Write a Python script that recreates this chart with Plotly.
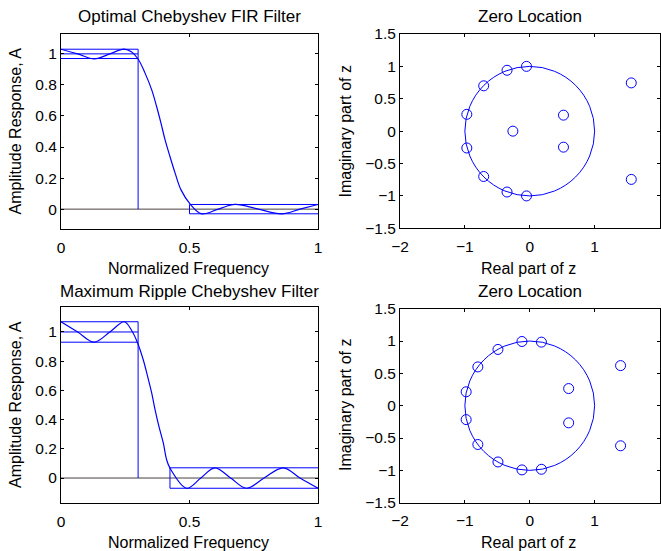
import plotly.graph_objects as go

# ---------------- data ----------------
# Optimal Chebyshev FIR filter amplitude response
freq1 = [0.0, 0.065, 0.13, 0.19, 0.245, 0.275, 0.3, 0.327, 0.353, 0.372, 0.389,
         0.405, 0.424, 0.444, 0.467, 0.502, 0.547, 0.612, 0.677, 0.768, 0.859, 0.93, 1.0]
amp1 = [1.03, 1.0, 0.968, 1.0, 1.03, 1.012, 0.967, 0.876, 0.768, 0.661, 0.554,
        0.446, 0.339, 0.232, 0.124, 0.034, -0.03, 0.0, 0.03, 0.0, -0.03, 0.0, 0.03]
fp1, fs1, dp1, ds1 = 0.3, 0.5, 0.03, 0.03

# Maximum ripple Chebyshev filter amplitude response
freq2 = [0.0, 0.065, 0.129, 0.19, 0.246, 0.275, 0.298, 0.32, 0.337, 0.353, 0.366,
         0.381, 0.398, 0.411, 0.424, 0.489, 0.544, 0.599, 0.66, 0.722, 0.79, 0.865, 0.93, 1.0]
amp2 = [1.07, 1.0, 0.93, 1.0, 1.07, 1.01, 0.925, 0.81, 0.696, 0.582, 0.468,
        0.353, 0.24, 0.125, 0.068, -0.07, 0.0, 0.07, 0.0, -0.07, 0.0, 0.07, 0.0, -0.07]
fp2, fs2, dp2, ds2 = 0.3, 0.424, 0.07, 0.07

# Zeros (real, imag)
zr1 = [-0.05, -0.05, -0.35, -0.35, -0.71, -0.71, -0.97, -0.97, -0.26, 0.52, 0.52, 1.565, 1.565]
zi1 = [1.0, -1.0, 0.94, -0.94, 0.70, -0.70, 0.26, -0.26, 0.0, 0.247, -0.247, 0.745, -0.745]

zr2 = [-0.12, -0.12, 0.18, 0.18, -0.49, -0.49, -0.80, -0.80, -0.98, -0.98, 0.60, 0.60, 1.40, 1.40]
zi2 = [0.993, -0.993, 0.983, -0.983, 0.87, -0.87, 0.60, -0.60, 0.215, -0.215, 0.265, -0.265, 0.62, -0.62]

amp_ticks = [0, 0.2, 0.4, 0.6, 0.8, 1]
amp_ticktext = ["0", "0.2", "0.4", "0.6", "0.8", "1"]
freq_ticks = [0, 0.5, 1]
freq_ticktext = ["0", "0.5", "1"]
re_ticks = [-2, -1, 0, 1, 2]
re_ticktext = ["\u22122", "\u22121", "0", "1", "2"]
im_ticks = [-1.5, -1, -0.5, 0, 0.5, 1, 1.5]
im_ticktext = ["\u22121.5", "\u22121", "\u22120.5", "0", "0.5", "1", "1.5"]

# ---------------- layout helpers ----------------
W, H = 661, 551
FONT = "Liberation Sans, Arial, Helvetica, sans-serif"
FS_TICK = 15.5
FS_LABEL = 16
FS_TITLE = 17
BLUE = "#0000ff"


def px(x):
    return x / W


def py(y):
    return 1 - y / H


fig = go.Figure()


def filter_traces(xa, ya, freq, amp, fp, fs, dp, ds):
    line = dict(color=BLUE, width=1)
    # zero line
    fig.add_trace(go.Scatter(x=[0, 1], y=[0, 0], mode="lines", xaxis=xa, yaxis=ya,
                             line=dict(color="#4a4040", width=1), hoverinfo="skip"))
    # passband box
    fig.add_trace(go.Scatter(x=[0, fp, fp], y=[1 + dp, 1 + dp, 0], mode="lines",
                             xaxis=xa, yaxis=ya, line=line))
    fig.add_trace(go.Scatter(x=[0, fp], y=[1, 1], mode="lines", xaxis=xa, yaxis=ya, line=line))
    fig.add_trace(go.Scatter(x=[0, fp], y=[1 - dp, 1 - dp], mode="lines", xaxis=xa, yaxis=ya, line=line))
    # stopband box
    fig.add_trace(go.Scatter(x=[1, fs, fs, 1], y=[ds, ds, -ds, -ds], mode="lines",
                             xaxis=xa, yaxis=ya, line=line))
    # response
    fig.add_trace(go.Scatter(x=freq, y=amp, mode="lines", xaxis=xa, yaxis=ya,
                             line=dict(color=BLUE, width=1.2, shape="spline", smoothing=1)))


def zero_traces(xa, ya, zr, zi):
    fig.add_trace(go.Scatter(x=zr, y=zi, mode="markers", xaxis=xa, yaxis=ya,
                             marker=dict(symbol="circle-open", size=10,
                                         color=BLUE, line=dict(color=BLUE, width=1))))


filter_traces("x", "y", freq1, amp1, fp1, fs1, dp1, ds1)
zero_traces("x2", "y2", zr1, zi1)
filter_traces("x3", "y3", freq2, amp2, fp2, fs2, dp2, ds2)
zero_traces("x4", "y4", zr2, zi2)

axis_common = dict(showline=True, linecolor="black", linewidth=1, mirror="ticks",
                   ticks="inside", ticklen=3, tickcolor="black", showgrid=False,
                   zeroline=False, automargin=False,
                   tickfont=dict(family=FONT, size=FS_TICK, color="black"),
                   fixedrange=True)
xax = dict(axis_common, ticklabelstandoff=4)
yax = dict(axis_common)

L0, L1 = px(61), px(318)
R0, R1 = px(400), px(659.5)

fig.update_layout(
    width=W, height=H, margin=dict(l=0, r=0, t=0, b=0, autoexpand=False),
    paper_bgcolor="white", plot_bgcolor="white", showlegend=False,
    font=dict(family=FONT, size=FS_TICK, color="black"),
    xaxis=dict(domain=[L0, L1], range=[0, 1], tickvals=freq_ticks, ticktext=freq_ticktext,
               anchor="y", **xax),
    yaxis=dict(domain=[py(229), py(34)], range=[-0.128, 1.128], tickvals=amp_ticks,
               ticktext=amp_ticktext, anchor="x", **yax),
    xaxis2=dict(domain=[R0, R1], range=[-2, 2], tickvals=re_ticks, ticktext=re_ticktext,
                anchor="y2", **xax),
    yaxis2=dict(domain=[py(228.3), py(34)], range=[-1.5, 1.5], tickvals=im_ticks,
                ticktext=im_ticktext, anchor="x2", **yax),
    xaxis3=dict(domain=[L0, L1], range=[0, 1], tickvals=freq_ticks, ticktext=freq_ticktext,
                anchor="y3", **xax),
    yaxis3=dict(domain=[py(503.3), py(306.7)], range=[-0.173, 1.173], tickvals=amp_ticks,
                ticktext=amp_ticktext, anchor="x3", **yax),
    xaxis4=dict(domain=[R0, R1], range=[-2, 2], tickvals=re_ticks, ticktext=re_ticktext,
                anchor="y4", **xax),
    yaxis4=dict(domain=[py(502.7), py(308.7)], range=[-1.5, 1.5], tickvals=im_ticks,
                ticktext=im_ticktext, anchor="x4", **yax),
)

# unit circles
for xr, yr in (("x2", "y2"), ("x4", "y4")):
    fig.add_shape(type="circle", xref=xr, yref=yr, x0=-1, y0=-1, x1=1, y1=1,
                  line=dict(color=BLUE, width=1), layer="below")

texts = [
    ("Optimal Chebyshev FIR Filter", 189.5, 16, 0, FS_TITLE),
    ("Zero Location", 530, 16, 0, FS_TITLE),
    ("Maximum Ripple Chebyshev Filter", 189.5, 291, 0, FS_TITLE),
    ("Zero Location", 530, 291, 0, FS_TITLE),
    ("Normalized Frequency", 188, 268, 0, FS_LABEL),
    ("Real part of z", 528, 268, 0, FS_LABEL),
    ("Normalized Frequency", 188, 542, 0, FS_LABEL),
    ("Real part of z", 528, 542, 0, FS_LABEL),
    ("Amplitude Response, A", 15, 131.5, -90, FS_LABEL),
    ("Imaginary part of z", 345, 131.5, -90, FS_LABEL),
    ("Amplitude Response, A", 15, 405, -90, FS_LABEL),
    ("Imaginary part of z", 345, 405, -90, FS_LABEL),
]
for t, x, y, ang, fs in texts:
    fig.add_annotation(text=t, x=px(x), y=py(y), xref="paper", yref="paper",
                       xanchor="center", yanchor="middle", showarrow=False, textangle=ang,
                       font=dict(family=FONT, size=fs, color="black"))

fig.write_html("out.html")
